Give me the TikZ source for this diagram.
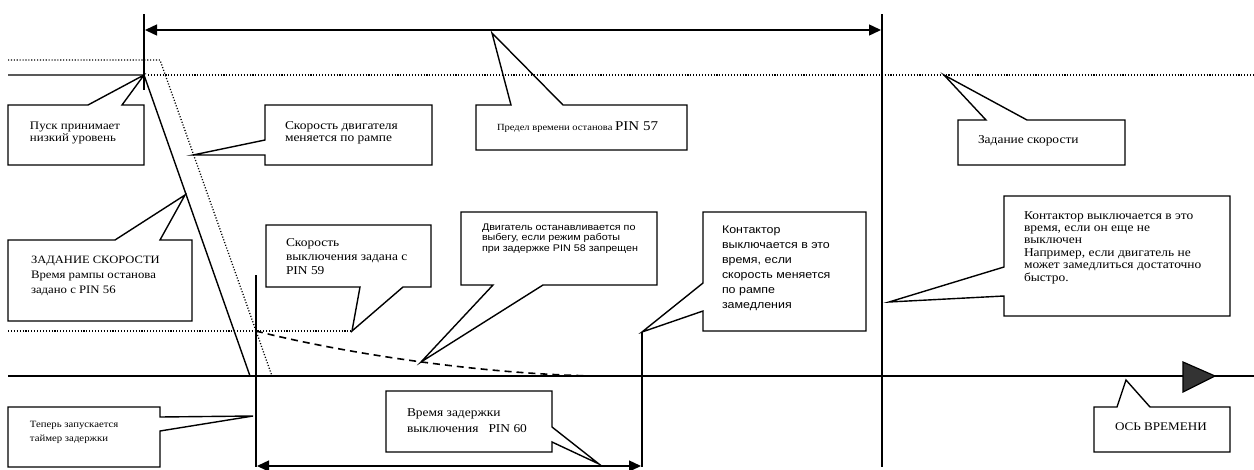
\documentclass[tikz,border=0pt]{standalone}
\usepackage{fontspec}
\setmainfont{Liberation Serif}[FakeStretch=1.12]
\setsansfont{Liberation Sans}[FakeStretch=1.12]
\usetikzlibrary{arrows.meta}
\newcommand\fsz[2]{\fontsize{#1}{#2}\selectfont}
\begin{document}
\begin{tikzpicture}[x=1pt,y=-1pt,
  callout/.style={draw=black,line width=1.4pt,fill=white,line join=miter},
  txt/.style={anchor=base west,inner sep=0pt,outer sep=0pt,align=left},
  solidline/.style={line width=1.4pt},
  dotline/.style={line width=1.3pt,dash pattern=on 1.1pt off 1.8pt},
  dashline/.style={line width=1.6pt,dash pattern=on 7pt off 5pt},
  dimarrow/.style={line width=1.4pt,{Triangle[length=12pt,width=11pt]}-{Triangle[length=12pt,width=11pt]}}]
\useasboundingbox (0,0) rectangle (1254,469);

% key coordinates
\coordinate (start) at (144,75);
\coordinate (rampEnd) at (250,376);
\coordinate (dotTop) at (160,60);
\coordinate (dotEnd) at (272,376);
\coordinate (delay) at (256,331);
\coordinate (stopSpeed) at (352,331);
\coordinate (coastEnd) at (597,376);
\coordinate (contact) at (642,332);
\coordinate (limitX) at (882,30);

% callouts
\draw[callout] (8,105) -- (88,105) -- (start) -- (122,105) -- (144,105) -- (144,165) -- (8,165) -- cycle;
\draw[callout] (265,105) -- (432,105) -- (432,165) -- (265,165) -- (265,155) -- (193,155) -- (265,140) -- cycle;
\draw[callout] (476,105) -- (511,105) -- (492,33) -- (563,105) -- (687,105) -- (687,150) -- (476,150) -- cycle;
\draw[callout] (958,120) -- (986,120) -- (944,75) -- (1027,120) -- (1125,120) -- (1125,165) -- (958,165) -- cycle;
\draw[callout] (8,240) -- (115,240) -- (185,195) -- (160,240) -- (192,240) -- (192,321) -- (8,321) -- cycle;
\draw[callout] (266,225) -- (431,225) -- (431,287) -- (403,287) -- (stopSpeed) -- (360,287) -- (266,287) -- cycle;
\draw[callout] (461,212) -- (657,212) -- (657,285) -- (543,285) -- (421,362) -- (493,285) -- (461,285) -- cycle;
\draw[callout] (703,212) -- (866,212) -- (866,331) -- (703,331) -- (703,311) -- (contact) -- (703,283) -- cycle;
\draw[callout] (1004,196) -- (1230,196) -- (1230,316) -- (1004,316) -- (1004,296) -- (889,302) -- (1004,267) -- cycle;
\draw[callout] (8,407) -- (160,407) -- (160,417) -- (253,416) -- (160,431) -- (160,467) -- (8,467) -- cycle;
\draw[callout] (386,391) -- (552,391) -- (552,427) -- (599,464) -- (552,442) -- (552,452) -- (386,452) -- cycle;
\draw[callout] (1094,407) -- (1117,407) -- (1126,380) -- (1150,407) -- (1230,407) -- (1230,452) -- (1094,452) -- cycle;

% signal lines
\draw[solidline] (8,75) -- (start) -- (rampEnd);
\draw[dotline] (8,60) -- (dotTop) -- (dotEnd);
\draw[dotline] (148,75) -- (1254,75);
\draw[dotline] (8,331) -- (stopSpeed);
\draw[dashline] (delay) .. controls (330,350) and (470,374) .. (coastEnd);

% time axis
\draw[solidline] (8,376) -- (1254,376);
\draw[line width=1.2pt,fill=black!80] (1183,362) -- (1215,376) -- (1183,392) -- cycle;

% verticals
\draw[solidline] (144,14) -- (144,90);
\draw[solidline] (limitX |- 0,14) -- (882,467);
\draw[solidline] (256,275) -- (256,467);
\draw[solidline] (contact) -- (642,467);

% dimension arrows
\draw[dimarrow] (145,30) -- (881,30);
\draw[dimarrow] (257,466) -- (641,466);

% texts (base = baseline of the last line)
\node[txt,font=\fsz{11.5}{12.5}] (t1) at (30,141.5) {Пуск принимает\\низкий уровень};
\node[txt,font=\fsz{12}{12.5}] (t2) at (285,141.5) {Скорость двигателя\\меняется по рампе};
\node[txt] (t3) at (497,130) {\fsz{9.4}{10}Предел времени останова \fsz{13.4}{16}PIN 57};
\node[txt,font=\fsz{12}{12.5}] (t4) at (978,143) {Задание скорости};
\node[txt,font=\fsz{11.4}{15}] (t5) at (31,293) {\fsz{11.2}{15}ЗАДАНИЕ СКОРОСТИ\\Время рампы останова\\задано с PIN 56};
\node[txt,font=\fsz{12}{14}] (t6) at (286,274) {Скорость\\выключения задана с\\PIN 59};
\node[txt,font=\sffamily\fsz{9.6}{10.4}] (t7) at (482,251) {Двигатель останавливается по\\выбегу, если режим работы\\при задержке PIN 58 запрещен};
\node[txt,font=\sffamily\fsz{11.1}{15}] (t8) at (722,308) {Контактор\\выключается в это\\время, если\\скорость меняется\\по рампе\\замедления};
\node[txt,font=\fsz{12}{12.4}] (t9) at (1024,281) {Контактор выключается в это\\время, если он еще не\\выключен\\Например, если двигатель не\\может замедлиться достаточно\\быстро.};
\node[txt,font=\fsz{9.6}{14}] (t10) at (30,441) {Теперь запускается\\таймер задержки};
\node[txt,font=\fsz{12}{16}] (t11) at (407,432) {Время задержки\\выключения\ \ \ PIN 60};
\node[txt,font=\fsz{11.7}{14}] (t12) at (1115,430) {ОСЬ ВРЕМЕНИ};
\end{tikzpicture}
\end{document}
